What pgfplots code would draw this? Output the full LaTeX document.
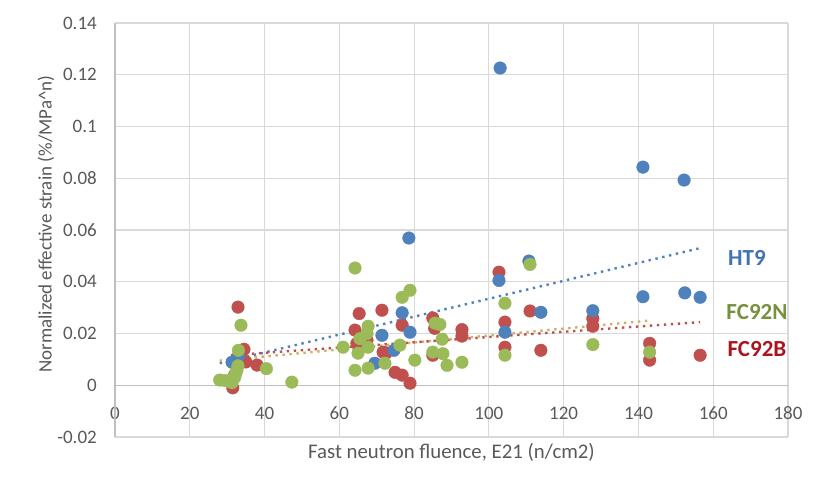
\documentclass[border=0pt]{standalone}
\usepackage{fontspec}
\setmainfont{Carlito}
\usepackage{pgfplots}
\pgfplotsset{compat=1.18}

\definecolor{cblue}{RGB}{79,129,189}
\definecolor{cred}{RGB}{192,80,77}
\definecolor{cgreen}{RGB}{155,187,89}
\definecolor{ctan}{RGB}{206,176,106}
\definecolor{tblue}{RGB}{65,115,180}
\definecolor{tgreen}{RGB}{118,146,60}
\definecolor{tred}{RGB}{170,20,30}
\definecolor{gridc}{RGB}{217,217,217}
\definecolor{axisc}{RGB}{191,191,191}
\definecolor{tickc}{RGB}{89,89,89}

\begin{document}
\begin{tikzpicture}
\begin{axis}[
  name=ax,
  scale only axis,
  width=673pt, height=414pt,
  xmin=0, xmax=180, ymin=-0.02, ymax=0.14,
  xtick={0,20,...,180},
  xticklabels={0,20,40,60,80,100,120,140,160,180},
  ytick={-0.02,0,0.02,0.04,0.06,0.08,0.1,0.12,0.14},
  yticklabels={-0.02,0,0.02,0.04,0.06,0.08,0.1,0.12,0.14},
  major tick length=0pt,
  axis line style={draw=none},
  grid=major,
  grid style={draw=gridc, line width=1.2pt},
  tick label style={font=\fontsize{19}{22}\selectfont, text=tickc},
  xticklabel style={anchor=center, yshift=24pt},
  yticklabel style={anchor=east, inner sep=0pt, xshift=-18pt},
  xlabel={Fast neutron fluence, E21 (n/cm2)},
  ylabel={Normalized effective strain (\%/MPa\textasciicircum n)},
  label style={text=tickc},
  xlabel style={font=\fontsize{20.8}{24}\selectfont, at={(axis description cs:0.5,0)}, anchor=center, yshift=-15pt},
  ylabel style={font=\fontsize{19}{22}\selectfont, at={(axis description cs:-0.1025,0.514)}, anchor=center},
  clip=false,
]

% zero lines
\addplot[axisc, line width=1.4pt, forget plot] coordinates {(0,0) (180,0)};
\addplot[axisc, line width=1.4pt, forget plot] coordinates {(0,-0.02) (0,0.14)};

% FC92B
\addplot[only marks, mark=*, mark size=6.3pt, color=cred] coordinates {
(31.5,-0.001)(32,0.004)(32.9,0.0302)(33.5,0.0118)(34.5,0.0139)(35,0.009)(38,0.0078)
(64.2,0.0213)(64.7,0.0162)(65.3,0.0277)(67.4,0.0174)(71.4,0.029)(71.7,0.0128)(72.5,0.0125)
(74.9,0.005)(76.8,0.0232)(76.8,0.0039)(78.9,0.0008)
(85,0.026)(85,0.0116)(85.5,0.022)(92.8,0.0215)(92.8,0.019)
(102.7,0.0437)(104.3,0.0244)(104.3,0.0147)(111,0.0287)(113.9,0.0135)
(127.8,0.0258)(127.8,0.0228)(143,0.0162)(143,0.0097)(156.5,0.0116)
};

% HT9
\addplot[only marks, mark=*, mark size=6.3pt, color=cblue] coordinates {
(31.3,0.0089)(33,0.0112)(69.5,0.0085)(71.4,0.0193)(74.6,0.0135)(76.8,0.028)
(78.6,0.0569)(78.9,0.0205)(102.7,0.0405)(103,0.1226)(104.3,0.0205)(110.7,0.048)
(113.9,0.0282)(127.8,0.0288)(141.2,0.0843)(141.2,0.0342)(152.2,0.0793)
(152.4,0.0357)(156.5,0.034)
};

% FC92N
\addplot[only marks, mark=*, mark size=6.3pt, color=cgreen] coordinates {
(28,0.002)(29.5,0.0018)(30.5,0.0015)(31.3,0.001)(31.5,0.0025)(32,0.003)(32.3,0.0045)
(32.6,0.0058)(32.9,0.0075)(33,0.0135)(33.7,0.0232)(40.5,0.0064)(47.3,0.0012)
(61,0.0147)(64.2,0.0453)(64.2,0.0058)(65,0.0124)(65.5,0.018)(67.4,0.02)(67.7,0.0228)
(67.7,0.0147)(67.7,0.0066)(72.2,0.0085)(76.2,0.0155)(76.8,0.034)(78.9,0.0367)(80.2,0.0097)
(85.6,0.024)(86.9,0.0235)(87.5,0.0178)(85,0.0128)(87.7,0.0122)(88.8,0.0077)(92.8,0.0089)
(104.3,0.0317)(104.3,0.0116)(111,0.0467)(127.8,0.0157)(143,0.0128)
};

% trend lines
\addplot[cblue, line width=2.4pt, dash pattern=on 2.4pt off 4.6pt] coordinates {(28,0.0085) (156.5,0.053)};
\addplot[cred, line width=2.4pt, dash pattern=on 2.4pt off 4.6pt] coordinates {(31,0.0116) (156.5,0.0244)};
\addplot[ctan, line width=2.4pt, dash pattern=on 2.4pt off 4.6pt] coordinates {(28,0.0095) (143,0.025)};

\node[font=\bfseries\fontsize{23}{26}\selectfont, text=tblue] at (axis cs:169,0.0491) {HT9};
\node[font=\bfseries\fontsize{23}{26}\selectfont, text=tgreen] at (axis cs:171.7,0.0282) {FC92N};
\node[font=\bfseries\fontsize{23}{26}\selectfont, text=tred] at (axis cs:171.7,0.0139) {FC92B};
\end{axis}
\pgfresetboundingbox
\path ([shift={(-115pt,-55pt)}]ax.south west) rectangle ([shift={(38pt,23pt)}]ax.north east);
\end{tikzpicture}
\end{document}
